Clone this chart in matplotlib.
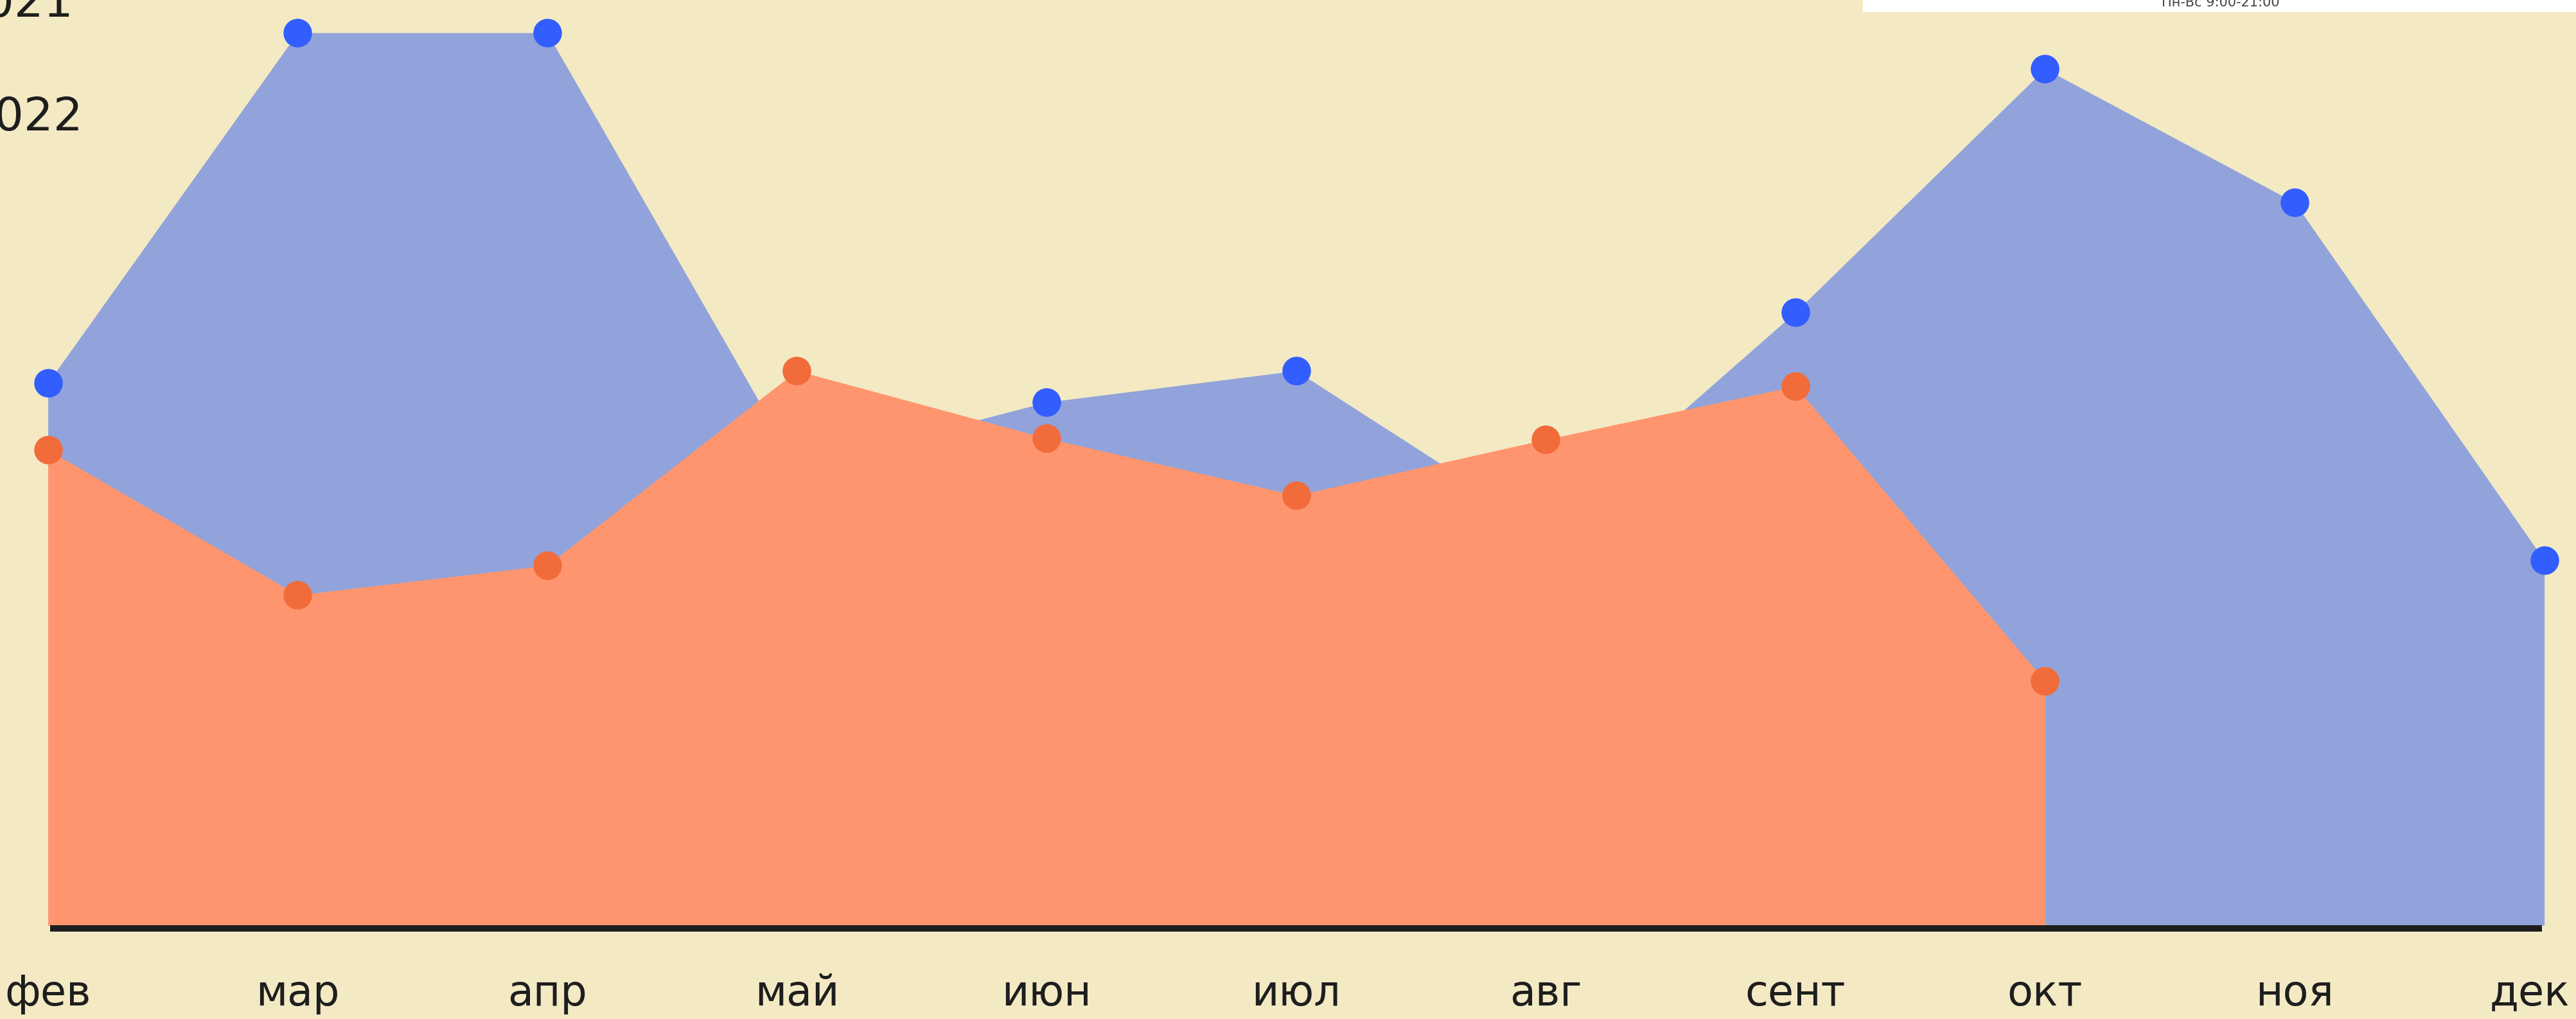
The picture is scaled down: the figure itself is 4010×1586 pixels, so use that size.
import matplotlib
matplotlib.use('Agg')
import matplotlib.pyplot as plt
from matplotlib.patches import Rectangle

W, H = 4010, 1586

months = ['фев', 'мар', 'апр', 'май', 'июн', 'июл', 'авг', 'сент', 'окт', 'ноя', 'дек']
# 2021 goes the whole year, 2022 stops at october
visits_2021 = [84.4, 138.9, 138.9, 71.3, 81.4, 86.3, 61.3, 95.4, 133.3, 112.5, 56.8]
visits_2022 = [74.0, 51.4, 56.0, 86.3, 75.8, 66.9, 75.6, 83.9, 38.0]
legend_labels = ['2021', '2022']
hours_text = 'Пн-Вс 9:00-21:00'

bg = '#f3eac4'
blue_fill = '#91a3da'
blue_dot = '#325dff'
orange_fill = '#ff956e'
orange_dot = '#f26b3a'


def px(x, y):
    # pixel coords (from top left) -> figure fraction
    return x / W, 1 - y / H


def main():
    fig = plt.figure(figsize=(W / 100, H / 100), dpi=100, facecolor=bg)
    ax = fig.add_axes([0, 0, 1, 1])
    ax.set_facecolor(bg)

    x21 = list(range(len(visits_2021)))
    x22 = list(range(len(visits_2022)))

    # blue dots sit under the orange area, so hidden ones stay hidden
    ax.fill_between(x21, visits_2021, 0, color=blue_fill, linewidth=0, zorder=1)
    ax.plot(x21, visits_2021, 'o', color=blue_dot, markersize=32, markeredgewidth=0, zorder=1.5)
    ax.fill_between(x22, visits_2022, 0, color=orange_fill, linewidth=0, zorder=2)
    ax.plot(x22, visits_2022, 'o', color=orange_dot, markersize=32, markeredgewidth=0, zorder=3)

    # black base line under the areas
    ax.plot([0.008, len(months) - 1.01], [-0.5, -0.5], color='#1e1e1e', linewidth=7.2,
            solid_capstyle='butt', zorder=4)

    step = 388.6
    left = 74.6
    xmax = (W - left) / step
    for i, m in enumerate(months):
        if i == len(months) - 1:
            ax.text(xmax - 10 / step, -10.7, m, ha='right', va='center', fontsize=47,
                    family='DejaVu Sans', color='#1e1e1e')
        else:
            ax.text(i, -10.7, m, ha='center', va='center', fontsize=47,
                    family='DejaVu Sans', color='#1e1e1e')

    ax.set_xlim(-left / step, xmax)
    ax.set_ylim(-(H - 1440) / 10, 1440 / 10)
    ax.axis('off')

    # legend, cut off by the left edge (as in the original)
    fig.text(*px(115, 26), legend_labels[0], ha='right', va='baseline', fontsize=52,
             color='#1e1e1e', family='DejaVu Sans')
    fig.text(*px(130, 203), legend_labels[1], ha='right', va='baseline', fontsize=52,
             color='#1e1e1e', family='DejaVu Sans')

    # white info box cut off by the top edge
    fig.patches.append(Rectangle(px(2900, 19), (W - 2900) / W, 19 / H,
                                 transform=fig.transFigure, facecolor='white',
                                 edgecolor='none', zorder=5))
    fig.text(*px(3457, 10), hours_text, ha='center', va='baseline', fontsize=15,
             color='#444444', family=['Liberation Sans Narrow', 'DejaVu Sans'], zorder=6)

    fig.savefig('out.png', dpi=100, facecolor=bg)


if __name__ == "__main__":
    main()
